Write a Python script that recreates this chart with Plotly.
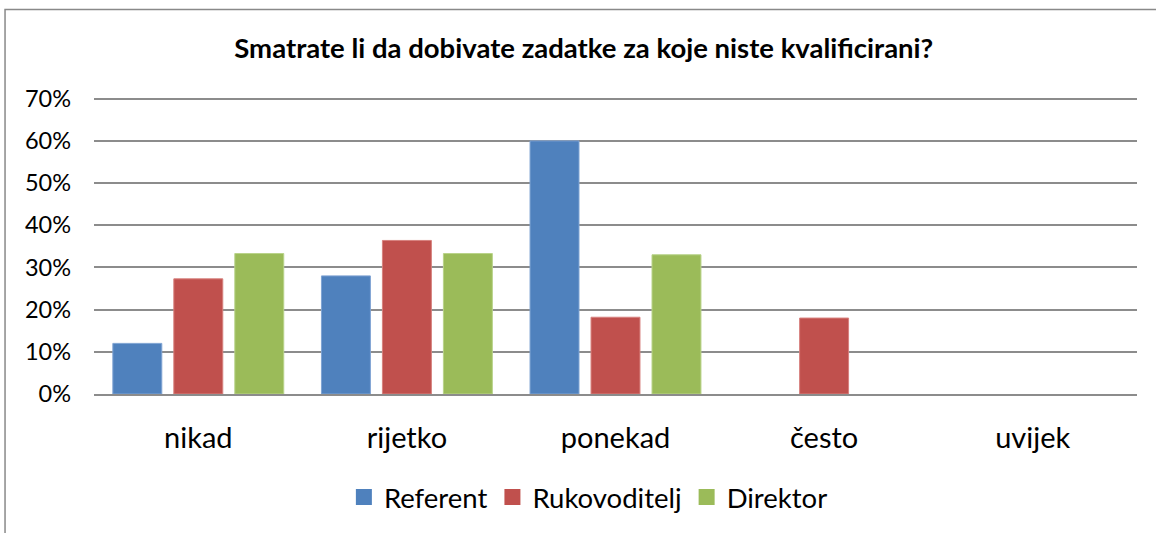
import plotly.graph_objects as go

categories = ["nikad", "rijetko", "ponekad", "često", "uvijek"]
referent = [0.12, 0.28, 0.60, 0.0, 0.0]
rukovoditelj = [0.273, 0.364, 0.182, 0.180, 0.0]
direktor = [0.333, 0.333, 0.330, 0.0, 0.0]
series_names = ["Referent", "Rukovoditelj", "Direktor"]
colors = ["#4F81BD", "#C0504D", "#9BBB59"]
edge_colors = ["#7FA3D3", "#D7817E", "#B9D38A"]
title_text = "Smatrate li da dobivate zadatke za koje niste kvalificirani?"

FONT = "Lato"
fig = go.Figure()
for name, vals, c, ec in zip(series_names, [referent, rukovoditelj, direktor], colors, edge_colors):
    fig.add_trace(go.Bar(x=categories, y=vals, name=name, showlegend=False,
                         marker=dict(color=c, line=dict(color=ec, width=[1 if v > 0 else 0 for v in vals]))))
# legend entries with 16px square swatches
for name, c in zip(series_names, colors):
    fig.add_trace(go.Scatter(x=[None], y=[None], mode="markers", name=name,
                             marker=dict(symbol="square", size=16, color=c, line=dict(width=0))))

# plot area: x 94..1137, y 97..395 (range top padded so the 70% gridline is drawn)
fig.update_layout(
    width=1156, height=533,
    margin=dict(l=94, r=19, t=97, b=138),
    paper_bgcolor="white", plot_bgcolor="white",
    barmode="group", bargap=0.123, bargroupgap=0.197,
    font=dict(family=FONT, color="black"),
    title=dict(text="<b>" + title_text + "</b>", x=0.505, xanchor="center", y=0.91, yanchor="middle",
               font=dict(size=27.5, family=FONT, color="black")),
    showlegend=True,
    legend=dict(orientation="h", x=0.474, xanchor="center", y=-0.343, yanchor="middle",
                font=dict(size=27.5, family=FONT, color="black"), itemwidth=30, traceorder="normal"),
    shapes=[dict(type="rect", xref="paper", yref="paper", x0=-0.0853, x1=1.2, y0=-0.8, y1=1.295,
                 line=dict(color="#898989", width=1.5), fillcolor="rgba(0,0,0,0)", layer="below")],
)
fig.update_xaxes(showgrid=False, showline=True, linecolor="#8c8c8c", linewidth=1.5,
                 tickfont=dict(size=29, family=FONT, color="black"), ticks="", ticklabelstandoff=17)
fig.update_yaxes(range=[0, 0.704], tickvals=[0, 0.1, 0.2, 0.3, 0.4, 0.5, 0.6, 0.7], tickformat=".0%",
                 showgrid=True, gridcolor="#8c8c8c", gridwidth=1.5, zeroline=False, showline=False,
                 tickfont=dict(size=23.5, family=FONT, color="black"), ticks="", ticklabelstandoff=22)

fig.write_html("out.html", config={"displayModeBar": False},
               post_script="document.body.style.margin='0';document.body.style.padding='0';")
